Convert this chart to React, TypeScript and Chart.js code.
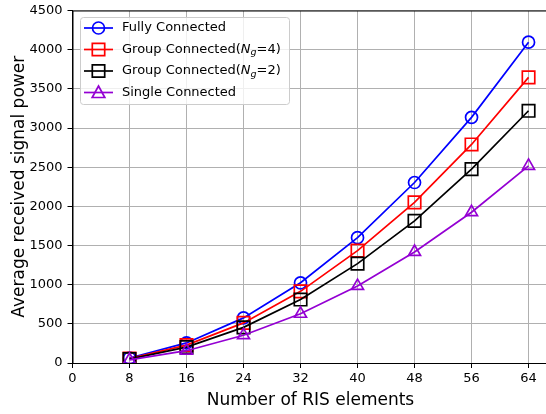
import React, { useEffect, useRef } from "react";
import { Chart, registerables } from "chart.js";

Chart.register(...registerables);

const xValues = [8, 16, 24, 32, 40, 48, 56, 64];
const fullyConnected = [64, 256, 576, 1024, 1600, 2304, 3136, 4096];
const group4 = [57, 228, 512, 915, 1435, 2050, 2790, 3646];
const group2 = [50, 202, 455, 810, 1268, 1815, 2475, 3220];
const singleConnected = [40, 157, 354, 628, 983, 1418, 1925, 2517];
const xTicks = [0, 8, 16, 24, 32, 40, 48, 56, 64];
const yTicks = [0, 500, 1000, 1500, 2000, 2500, 3000, 3500, 4000, 4500];

const FONT = "'DejaVu Sans', sans-serif";
const LW = 1.7;

type Entry = { parts: { t: string; italic?: boolean; sub?: boolean }[]; color: string; marker: string };

const legendEntries: Entry[] = [
  { parts: [{ t: "Fully Connected" }], color: "#0000ff", marker: "circle" },
  {
    parts: [{ t: "Group Connected(" }, { t: "N", italic: true }, { t: "g", italic: true, sub: true }, { t: "=4)" }],
    color: "#ff0000",
    marker: "rect",
  },
  {
    parts: [{ t: "Group Connected(" }, { t: "N", italic: true }, { t: "g", italic: true, sub: true }, { t: "=2)" }],
    color: "#000000",
    marker: "rect",
  },
  { parts: [{ t: "Single Connected" }], color: "#9400d3", marker: "triangle" },
];

function drawMarker(ctx: CanvasRenderingContext2D, kind: string, x: number, y: number, color: string) {
  ctx.strokeStyle = color;
  ctx.lineWidth = LW;
  ctx.beginPath();
  if (kind === "circle") {
    ctx.arc(x, y, 6, 0, Math.PI * 2);
  } else if (kind === "rect") {
    ctx.rect(x - 6.2, y - 6.2, 12.4, 12.4);
  } else {
    ctx.moveTo(x, y - 6.5);
    ctx.lineTo(x + 6.3, y + 5);
    ctx.lineTo(x - 6.3, y + 5);
    ctx.closePath();
  }
  ctx.stroke();
}

const framePlugin = {
  id: "frame",
  afterDatasetsDraw(chart: any) {
    const { ctx, chartArea } = chart;
    ctx.save();
    ctx.strokeStyle = "#000";
    ctx.lineWidth = 1;
    ctx.strokeRect(chartArea.left + 0.5, chartArea.top + 0.5, chartArea.right - chartArea.left, chartArea.bottom - chartArea.top);
    ctx.restore();
  },
};

const legendPlugin = {
  id: "customLegend",
  afterDraw(chart: any) {
    const ctx: CanvasRenderingContext2D = chart.ctx;
    ctx.save();
    const bx = 80.5, by = 17.5, bw = 209, bh = 87, r = 3;
    ctx.beginPath();
    ctx.moveTo(bx + r, by);
    ctx.lineTo(bx + bw - r, by);
    ctx.arcTo(bx + bw, by, bx + bw, by + r, r);
    ctx.lineTo(bx + bw, by + bh - r);
    ctx.arcTo(bx + bw, by + bh, bx + bw - r, by + bh, r);
    ctx.lineTo(bx + r, by + bh);
    ctx.arcTo(bx, by + bh, bx, by + bh - r, r);
    ctx.lineTo(bx, by + r);
    ctx.arcTo(bx, by, bx + r, by, r);
    ctx.closePath();
    ctx.fillStyle = "rgba(255,255,255,0.8)";
    ctx.fill();
    ctx.strokeStyle = "#cccccc";
    ctx.lineWidth = 1;
    ctx.stroke();

    legendEntries.forEach((e, i) => {
      const y = 28 + i * 21.5;
      ctx.strokeStyle = e.color;
      ctx.lineWidth = LW;
      ctx.beginPath();
      ctx.moveTo(84, y);
      ctx.lineTo(113, y);
      ctx.stroke();
      drawMarker(ctx, e.marker, 98.5, y, e.color);
      let x = 122;
      ctx.fillStyle = "#000";
      ctx.textBaseline = "middle";
      ctx.textAlign = "left";
      e.parts.forEach((p) => {
        const size = p.sub ? 9.5 : 13;
        ctx.font = `${p.italic ? "italic " : ""}${size}px ${FONT}`;
        ctx.fillText(p.t, x, p.sub ? y + 3.5 : y);
        x += ctx.measureText(p.t).width;
      });
    });
    ctx.restore();
  },
};

function makeDataset(label: string, values: number[], color: string, style: string, radius: number, order: number) {
  return {
    label,
    data: xValues.map((x, i) => ({ x, y: values[i] })),
    borderColor: color,
    backgroundColor: color,
    borderWidth: LW,
    pointStyle: style,
    pointRadius: radius,
    pointBorderWidth: LW,
    pointBorderColor: color,
    pointBackgroundColor: "rgba(0,0,0,0)",
    tension: 0,
    fill: false,
    order,
  };
}

export default function App() {
  const ref = useRef<HTMLCanvasElement>(null);
  useEffect(() => {
    document.body.style.margin = "0";
    const canvas = ref.current!;
    const chart = new Chart(canvas, {
      type: "line",
      data: {
        datasets: [
          makeDataset("Fully Connected", fullyConnected, "#0000ff", "circle", 6, 4),
          makeDataset("Group Connected(Ng=4)", group4, "#ff0000", "rect", 8.8, 3),
          makeDataset("Group Connected(Ng=2)", group2, "#000000", "rect", 8.8, 2),
          makeDataset("Single Connected", singleConnected, "#9400d3", "triangle", 6.9, 1),
        ] as any,
      },
      options: {
        animation: false,
        responsive: false,
        devicePixelRatio: 1,
        layout: { padding: { top: 10, right: 0, left: 0, bottom: 0 } },
        plugins: { legend: { display: false }, tooltip: { enabled: false } },
        scales: {
          x: {
            type: "linear",
            min: 0,
            max: 66.8,
            afterBuildTicks: (scale: any) => {
              scale.ticks = xTicks.map((v) => ({ value: v }));
            },
            afterFit: (scale: any) => {
              scale.height = 51;
            },
            ticks: {
              callback: (v: any) => String(v),
              color: "#000",
              font: { family: FONT, size: 13 },
              padding: 3,
              maxRotation: 0,
              autoSkip: false,
            },
            grid: { color: "#b0b0b0", lineWidth: 1, tickLength: 5, tickColor: "#000", drawTicks: true },
            border: { color: "#000", width: 1 },
            title: {
              display: true,
              text: "Number of RIS elements",
              color: "#000",
              font: { family: FONT, size: 17 },
              padding: { top: 0, bottom: 3 },
            },
          },
          y: {
            type: "linear",
            min: 0,
            max: 4500,
            afterBuildTicks: (scale: any) => {
              scale.ticks = yTicks.map((v) => ({ value: v }));
            },
            afterFit: (scale: any) => {
              scale.width = 72.5;
              scale.paddingTop = 0;
              scale.paddingBottom = 0;
            },
            ticks: {
              callback: (v: any) => String(v),
              color: "#000",
              font: { family: FONT, size: 13 },
              padding: 5,
              autoSkip: false,
            },
            grid: { color: "#b0b0b0", lineWidth: 1, tickLength: 5, tickColor: "#000", drawTicks: true },
            border: { color: "#000", width: 1 },
            title: {
              display: true,
              text: "Average received signal power",
              color: "#000",
              font: { family: FONT, size: 17 },
              padding: { top: 9, bottom: 0 },
            },
          },
        },
      },
      plugins: [framePlugin, legendPlugin],
    } as any);
    return () => chart.destroy();
  }, []);
  return (
    <div style={{ width: 546, height: 414, overflow: "hidden", position: "relative" }}>
      <canvas ref={ref} width={559} height={414} style={{ display: "block" }} />
    </div>
  );
}
